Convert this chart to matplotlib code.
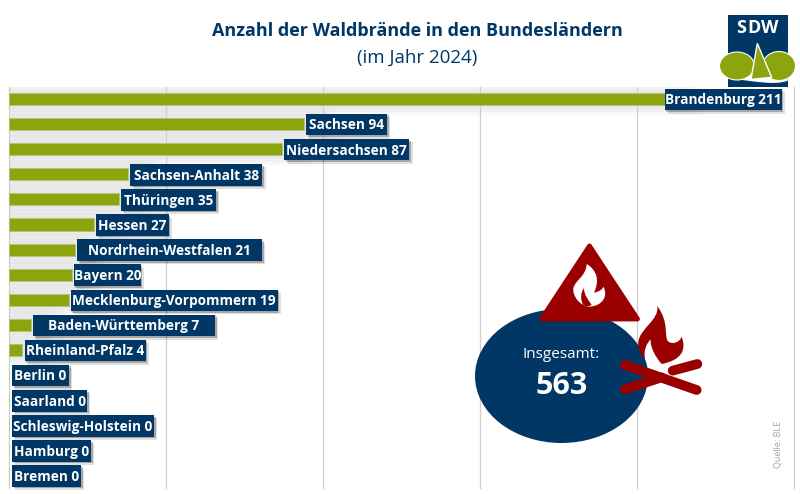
import matplotlib
matplotlib.use("Agg")
import matplotlib.pyplot as plt
import matplotlib.patheffects as pe
from matplotlib.patches import Ellipse, PathPatch, Polygon, Rectangle
from matplotlib.path import Path

plt.rcParams['font.family'] = ['Open Sans', 'DejaVu Sans']

BLUE = '#003764'
GREEN = '#8ba50f'
RED = '#9b0000'

laender = ['Brandenburg', 'Sachsen', 'Niedersachsen', 'Sachsen-Anhalt', 'Thüringen', 'Hessen',
           'Nordrhein-Westfalen', 'Bayern', 'Mecklenburg-Vorpommern', 'Baden-Württemberg',
           'Rheinland-Pfalz', 'Berlin', 'Saarland', 'Schleswig-Holstein', 'Hamburg', 'Bremen']
braende = [211, 94, 87, 38, 35, 27, 21, 20, 19, 7, 4, 0, 0, 0, 0, 0]
x_ticks = [0, 50, 100, 150, 200, 250]

# label box layout in pixels
box_widths = [117, 81, 125, 132, 95, 73, 185, 67, 207, 182, 121, 57, 75, 142, 79, 69]
box_gaps = [-7, 2, 2, 2, 2, 2, 2, 2, 2, 2, 3, 3, 3, 3, 3, 3]

fig = plt.figure(figsize=(8, 4.94), dpi=100)
fig.patch.set_facecolor('white')

ax = fig.add_axes([9 / 800, 1 - 488 / 494, 785 / 800, 401 / 494])
rows = list(range(len(laender)))
# soft glow behind the bars, built from stacked see-through bars
for k in range(1, 9):
    grow = [v + k * 1.3 if v > 0 else 0 for v in braende]
    ax.barh(rows, grow, height=0.48 + k * 0.11, color='black', alpha=0.012, zorder=1)
ax.barh(rows, braende, height=0.48, color=GREEN, zorder=3, edgecolor='#b9c47a', linewidth=0.5)
ax.set_xlim(0, 250)
ax.set_ylim(15.5, -0.48)
ax.set_xticks(x_ticks)
ax.set_yticks([])
ax.tick_params(length=0, labelbottom=False)
ax.grid(axis='x', color='#cfcfcf', lw=0.9, zorder=2)
for g in ax.get_xgridlines():
    g.set_clip_on(False)
for s in ax.spines.values():
    s.set_visible(False)

# overlay in pixel coordinates for labels and icons
ov = fig.add_axes([0, 0, 1, 1])
ov.set_xlim(0, 800)
ov.set_ylim(494, 0)
ov.axis('off')
ov.patch.set_alpha(0)

box_shadow = [pe.SimplePatchShadow(offset=(2.4, -2.4), alpha=0.12, shadow_rgbFace='#000000'),
              pe.SimplePatchShadow(offset=(1.2, -1.2), alpha=0.25, shadow_rgbFace='#000000'), pe.Normal()]
for i, (name, val) in enumerate(zip(laender, braende)):
    end = 9 + val * 785 / 250
    left = end + box_gaps[i]
    yc = 99.5 + i * 25.1
    r = Rectangle((left, yc - 10.8), box_widths[i], 21.6, fc=BLUE, ec='none', zorder=5, path_effects=box_shadow)
    ov.add_patch(r)
    ov.text(left + box_widths[i] / 2, yc + 0.8, f'{name} {val}', color='white', fontsize=9.8, fontweight='bold',
            ha='center', va='center', zorder=6)

ov.text(417, 30.5, 'Anzahl der Waldbrände in den Bundesländern', color=BLUE, fontsize=13, fontweight='bold',
        ha='center', va='center')
ov.text(417, 58, '(im Jahr 2024)', color=BLUE, fontsize=13.5, ha='center', va='center')


def zoom2(pts):
    return [(460 + x / 3, 250 + y / 3) for x, y in pts]


def fire_xy(pts):
    return [(620 + x / 3, 300 + y / 3) for x, y in pts]


def logo(pts):
    return [(715 + x / 3, 10 + y / 3) for x, y in pts]


def curve(start, *segs, conv=zoom2):
    verts = [start]
    codes = [Path.MOVETO]
    for seg in segs:
        verts += list(seg)
        codes += [Path.CURVE4] * 3
    verts.append(start)
    codes.append(Path.CLOSEPOLY)
    return Path(conv(verts), codes)


# total bubble
ov.add_patch(Ellipse((561.5, 376), 173, 134, fc=BLUE, ec='none', zorder=4))
ov.text(561.5, 354, 'Insgesamt:', color='white', fontsize=11, ha='center', va='center', zorder=6)
ov.text(561.5, 386, str(sum(braende)), color='white', fontsize=22, fontweight='bold', ha='center', va='center', zorder=6)

# warning triangle
ov.add_patch(Polygon([(589.5, 246), (637.5, 319), (541.5, 319)], closed=True, fc=RED, ec=RED, lw=3.5, joinstyle='round', zorder=5))
tri_flame = curve((388, 170),
                  [(360, 168), (338, 140), (340, 115)],
                  [(345, 90), (378, 80), (380, 42)],
                  [(410, 60), (420, 90), (402, 128)],
                  [(418, 125), (428, 118), (430, 110)],
                  [(445, 135), (430, 168), (388, 170)])
ov.add_patch(PathPatch(tri_flame, fc='white', ec='none', zorder=6))
ov.add_patch(PathPatch(curve((370, 165), [(360, 150), (362, 125), (372, 115)], [(372, 135), (385, 150), (395, 165)], [(385, 170), (378, 170), (370, 165)]), fc=RED, ec='none', zorder=7))

# campfire
ov.add_patch(Polygon(fire_xy([(75, 178), (92, 118), (125, 192), (125, 210), (85, 195)]), closed=True, fc='white', ec='none', zorder=5))
fire = curve((125, 192),
             [(185, 180), (200, 150), (185, 110)],
             [(180, 125), (160, 135), (145, 125)],
             [(130, 110), (150, 70), (112, 18)],
             [(118, 60), (60, 85), (55, 125)],
             [(52, 150), (65, 165), (75, 178)],
             [(70, 150), (80, 130), (92, 118)],
             [(90, 140), (105, 170), (125, 192)], conv=fire_xy)
ov.add_patch(PathPatch(fire, fc=RED, ec='none', zorder=6))
for a, b in [((15, 195), (230, 270)), ((15, 268), (125, 232)), ((158, 212), (232, 192))]:
    pa, pb = fire_xy([a, b])
    ov.plot([pa[0], pb[0]], [pa[1], pb[1]], color=RED, lw=7, solid_capstyle='round', zorder=8)

ov.text(778, 444, 'Quelle: BLE', color='#a6a6a6', fontsize=6.5, rotation=90, ha='center', va='center')

# SDW logo
ov.add_patch(Rectangle((727.5, 15), 60, 72, fc=BLUE, ec='none', zorder=4))
for letter, lx in zip('SDW', [741, 754, 770]):
    ov.text(lx, 28.3, letter, color='white', fontsize=13, fontweight='bold', ha='center', va='center', zorder=6)
band = curve((38, 190), [(38, 190), (100, 190), (218, 190)], [(218, 200), (218, 205), (218, 212)],
             [(180, 228), (110, 212), (38, 205)], conv=logo)
ov.add_patch(PathPatch(band, fc='white', ec='none', zorder=5))
ov.add_patch(Ellipse((737, 66), 35, 28, fc=GREEN, ec='white', lw=0.8, zorder=6))
ov.add_patch(Ellipse((779, 66), 33, 29, fc=GREEN, ec='white', lw=0.8, zorder=6))
ov.add_patch(Polygon(logo([(127, 100), (170, 202), (108, 208)]), closed=True, fc=GREEN, ec='white', lw=1, zorder=7))

fig.savefig('out.png', dpi=100)
